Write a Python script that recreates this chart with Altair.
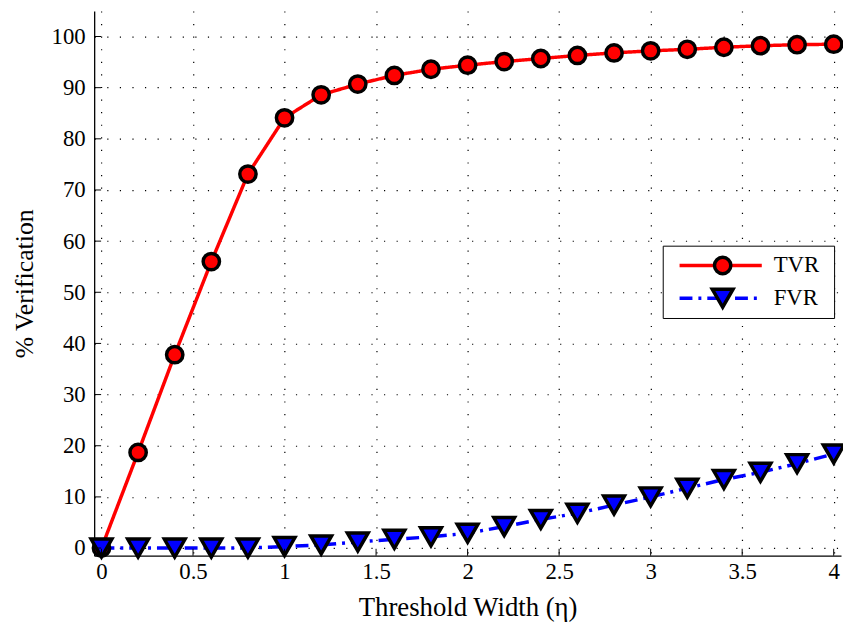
import altair as alt
import pandas as pd

# ---- data ----
eta = [0.0, 0.2, 0.4, 0.6, 0.8, 1.0, 1.2, 1.4, 1.6, 1.8, 2.0,
       2.2, 2.4, 2.6, 2.8, 3.0, 3.2, 3.4, 3.6, 3.8, 4.0]
tvr = [0.0, 18.7, 37.8, 56.0, 73.1, 84.1, 88.6, 90.7, 92.4, 93.6, 94.4,
       95.1, 95.7, 96.3, 96.8, 97.2, 97.5, 97.9, 98.2, 98.4, 98.5]
fvr = [0.0, 0.0, 0.0, 0.0, 0.0, 0.3, 0.6, 1.2, 1.7, 2.2, 2.9,
       4.2, 5.6, 6.8, 8.4, 10.0, 11.7, 13.4, 14.8, 16.5, 18.4]
series_names = ["TVR", "FVR"]          # legend order (alphabetically descending)
series_colors = ["#ff0000", "#0000ff"]
x_ticks = [0, 0.5, 1, 1.5, 2, 2.5, 3, 3.5, 4]
y_ticks = [0, 10, 20, 30, 40, 50, 60, 70, 80, 90, 100]

rows = []
for name, vals in zip(series_names, [tvr, fvr]):
    for xv, yv in zip(eta, vals):
        rows.append({"eta": xv, "value": yv, "series": name, "marker": name})
df = pd.DataFrame(rows)
xt = pd.DataFrame({"v": x_ticks})
yt = pd.DataFrame({"v": y_ticks})

FONT = "Liberation Serif"
W, H = 754, 550

xscale = alt.Scale(domain=[-0.04, 4.04], nice=False, zero=False)
yscale = alt.Scale(domain=[-1.5, 105], nice=False, zero=False)

common_axis = dict(
    grid=True, gridColor="black", gridDash=[1.2, 11.5], gridWidth=1.2,
    gridOpacity=1, domainColor="black", domainWidth=1.3,
    ticks=False, tickSize=0,
    labelFont=FONT, labelFontSize=23, labelColor="black",
    titleFont=FONT, titleFontWeight="normal", titleColor="black",
)
xaxis = alt.Axis(values=x_ticks, format="~r", title="Threshold Width (η)",
                 labelFlush=False, labelPadding=5, titlePadding=11,
                 titleFontSize=27, **common_axis)
yaxis = alt.Axis(values=y_ticks, format="d", title="% Verification",
                 labelPadding=9, titlePadding=14, titleFontSize=26,
                 **common_axis)

LX, LY = 574, 237
# box + lines (labels kept invisible, they only set the box width)
legend_lines = alt.Legend(
    orient="none", legendX=LX, legendY=LY, title=None,
    symbolType="stroke", symbolSize=6889, symbolStrokeWidth=3.5,
    fillColor="white", strokeColor="black", padding=5,
    symbolOffset=10, labelOffset=20, clipHeight=30, rowPadding=3,
    labelFont=FONT, labelFontSize=23, labelOpacity=0,
)
# markers + visible labels, drawn on top
legend_marks = alt.Legend(
    orient="none", legendX=LX, legendY=LY, title=None,
    padding=5, symbolOffset=43, labelOffset=39, clipHeight=30, rowPadding=3,
    symbolStrokeColor="black", symbolStrokeWidth=3.5, symbolOpacity=1,
    labelFont=FONT, labelFontSize=23, labelColor="black",
)

lines = alt.Chart(df).mark_line(strokeWidth=3.5).encode(
    x=alt.X("eta:Q", scale=xscale, axis=xaxis),
    y=alt.Y("value:Q", scale=yscale, axis=yaxis),
    color=alt.Color("series:N", sort="descending",
                    scale=alt.Scale(range=series_colors),
                    legend=legend_lines),
    strokeDash=alt.StrokeDash("series:N", sort="descending",
                              scale=alt.Scale(range=[[1, 0], [13, 6, 3, 6]]),
                              legend=legend_lines),
)

points = alt.Chart(df).mark_point(filled=True, strokeWidth=3.5,
                                  opacity=1).encode(
    x=alt.X("eta:Q", scale=xscale),
    y=alt.Y("value:Q", scale=yscale),
    fill=alt.Fill("marker:N", sort="descending",
                  scale=alt.Scale(range=series_colors), legend=legend_marks),
    stroke=alt.Stroke("marker:N", sort="descending",
                      scale=alt.Scale(range=["black", "black"]),
                      legend=legend_marks),
    shape=alt.Shape("marker:N", sort="descending",
                    scale=alt.Scale(range=["circle", "triangle-down"]),
                    legend=legend_marks),
    size=alt.Size("marker:N", sort="descending",
                  scale=alt.Scale(range=[272, 441]), legend=legend_marks),
)

xticks = alt.Chart(xt).mark_rule(color="black", strokeWidth=1).encode(
    x=alt.X("v:Q", scale=xscale), y=alt.value(H), y2=alt.value(H - 7))
yticks = alt.Chart(yt).mark_rule(color="black", strokeWidth=1).encode(
    y=alt.Y("v:Q", scale=yscale), x=alt.value(0), x2=alt.value(7))

chart = alt.layer(lines, points, xticks, yticks).properties(
    width=W, height=H,
    autosize=alt.AutoSizeParams(type="none"),
    padding={"left": 87, "top": 0, "right": 2, "bottom": 69},
).configure(font=FONT).configure_view(stroke=None)

chart.save("out.html", embed_options={"renderer": "svg", "actions": False})
